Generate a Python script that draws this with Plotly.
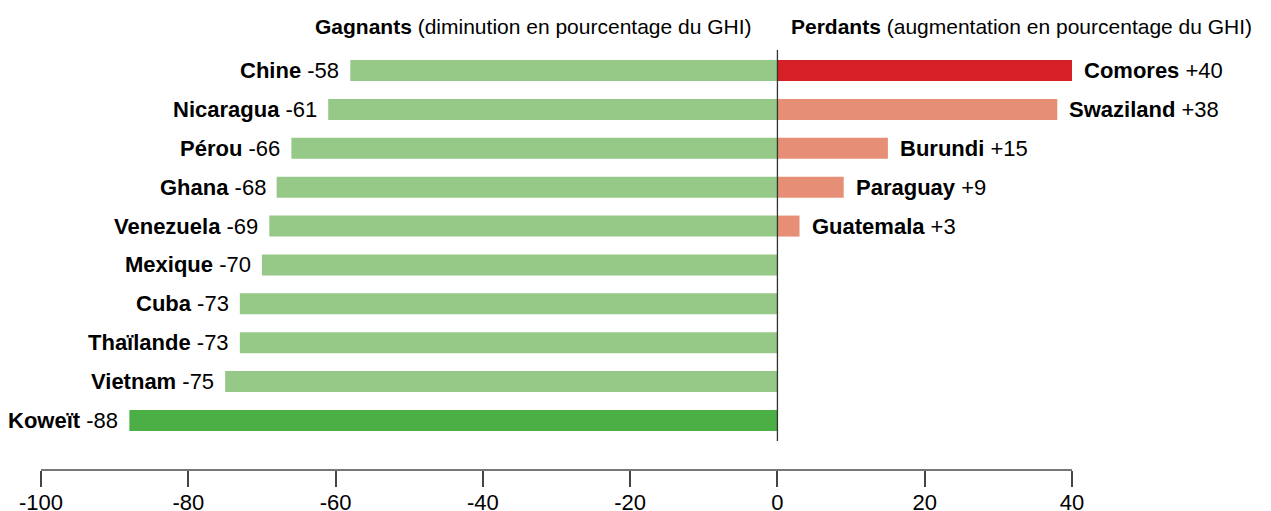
import plotly.graph_objects as go

winners = ["Chine", "Nicaragua", "Pérou", "Ghana", "Venezuela", "Mexique", "Cuba", "Thaïlande", "Vietnam", "Koweït"]
winner_values = [-58, -61, -66, -68, -69, -70, -73, -73, -75, -88]
losers = ["Comores", "Swaziland", "Burundi", "Paraguay", "Guatemala"]
loser_values = [40, 38, 15, 9, 3]
x_ticks = [-100, -80, -60, -40, -20, 0, 20, 40]
header_left = ("Gagnants", "(diminution en pourcentage du GHI)")
header_right = ("Perdants", "(augmentation en pourcentage du GHI)")

FONT = "Liberation Sans"
LIGHT_GREEN, DARK_GREEN = "#96c987", "#4caf46"
SALMON, RED = "#e78f76", "#d71f26"

w_pos = list(range(len(winners)))
l_pos = list(range(len(losers)))
w_min = min(winner_values)
l_max = max(loser_values)
w_colors = [DARK_GREEN if v == w_min else LIGHT_GREEN for v in winner_values]
l_colors = [RED if v == l_max else SALMON for v in loser_values]

fig = go.Figure()
fig.add_trace(go.Bar(x=winner_values, y=w_pos, orientation="h", marker=dict(color=w_colors, line=dict(width=0)), width=0.54, hoverinfo="skip"))
fig.add_trace(go.Bar(x=loser_values, y=l_pos, orientation="h", marker=dict(color=l_colors, line=dict(width=0)), width=0.54, hoverinfo="skip"))

fsize = 22
for name, v, p in zip(winners, winner_values, w_pos):
    fig.add_annotation(x=v, y=p, text=f"<b>{name}</b> {v}", showarrow=False, xanchor="right", yanchor="middle", xshift=-9, font=dict(family=FONT, size=fsize, color="#000"))
for name, v, p in zip(losers, loser_values, l_pos):
    fig.add_annotation(x=v, y=p, text=f"<b>{name}</b> +{v}", showarrow=False, xanchor="left", yanchor="middle", xshift=10, font=dict(family=FONT, size=fsize, color="#000"))

hsize = 21
fig.add_annotation(x=0, y=-1.144, text=f"<b>{header_left[0]}</b> {header_left[1]}", showarrow=False, xanchor="right", yanchor="middle", xshift=-23, font=dict(family=FONT, size=hsize, color="#000"))
fig.add_annotation(x=0, y=-1.144, text=f"<b>{header_right[0]}</b> {header_right[1]}", showarrow=False, xanchor="left", yanchor="middle", xshift=12, font=dict(family=FONT, size=hsize, color="#000"))

fig.add_shape(type="line", x0=0, x1=0, y0=-0.527, y1=len(winners) - 1 + 0.524, xref="x", yref="y", line=dict(color="#333", width=1.3), layer="above")

fig.update_layout(
    width=1271, height=511,
    margin=dict(l=33, r=207, t=0, b=50),
    plot_bgcolor="white", paper_bgcolor="white",
    showlegend=False, barmode="overlay",
    xaxis=dict(range=[-100, 40], tickvals=x_ticks, ticktext=[str(t) for t in x_ticks],
               showgrid=False, zeroline=False, showline=True, linecolor="#777", linewidth=2,
               ticks="outside", ticklen=16, tickwidth=1.5, tickcolor="#444", ticklabelstandoff=-3,
               tickfont=dict(family=FONT, size=22, color="#000")),
    yaxis=dict(range=[10.247, -1.607], visible=False, showgrid=False, zeroline=False),
)
fig.write_html("out.html")
